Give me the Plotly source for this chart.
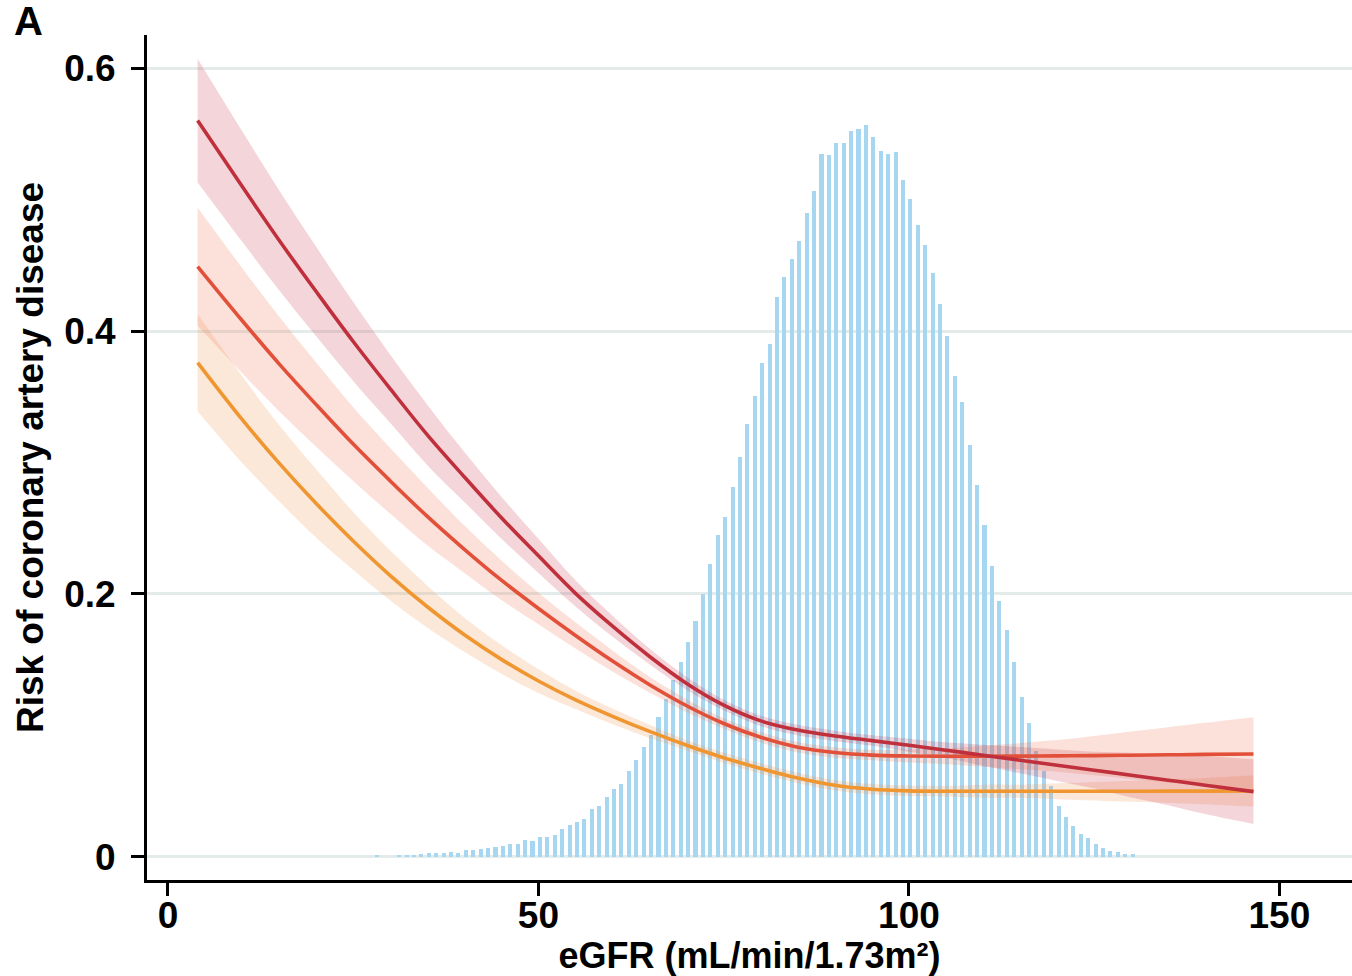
import plotly.graph_objects as go

# ---------------- data ----------------
# Histogram of eGFR distribution (scaled to risk axis), bin centres
hist_bins = [k + 0.2 for k in range(28, 131)]
hist_heights = [
    0.001, 0.0, 0.0, 0.0015, 0.0015, 0.0018, 0.0023, 0.003, 0.0033, 0.0033,      # 28-37
    0.0035, 0.0033, 0.0053, 0.0056, 0.0061, 0.0066, 0.0076, 0.0081, 0.0099, 0.0096,  # 38-47
    0.0127, 0.0122, 0.0152, 0.0152, 0.0165, 0.0213, 0.0246, 0.0264, 0.0289, 0.0368,  # 48-57
    0.0388, 0.0454, 0.0515, 0.0558, 0.0654, 0.0738, 0.0834, 0.0925, 0.1067, 0.1199,  # 58-67
    0.1346, 0.148, 0.1635, 0.1797, 0.2, 0.2228, 0.2451, 0.2583, 0.2811, 0.3042,      # 68-77
    0.3293, 0.3503, 0.3757, 0.3903, 0.4256, 0.441, 0.4545, 0.4684, 0.4895, 0.5065,   # 78-87
    0.5344, 0.5338, 0.5432, 0.5432, 0.5521, 0.5534, 0.5569, 0.5475, 0.5371, 0.5344,  # 88-97
    0.5359, 0.5146, 0.5001, 0.4804, 0.4654, 0.4443, 0.4205, 0.3965, 0.366, 0.346,    # 98-107
    0.3131, 0.2829, 0.2522, 0.2213, 0.1944, 0.1726, 0.1485, 0.1214, 0.1017, 0.0808,  # 108-117
    0.0657, 0.054, 0.0388, 0.0302, 0.0236, 0.0177, 0.0144, 0.0096, 0.0071, 0.0046,   # 118-127
    0.0041, 0.0023, 0.002,                                                           # 128-130
]

egfr = [4, 10, 15, 20, 25, 30, 35, 40, 45, 50, 55, 60, 65, 70, 75, 80, 85, 90, 95,
        100, 105, 110, 115, 120, 125, 130, 135, 140, 146.5]

risk_dark = [0.560, 0.510, 0.469, 0.430, 0.392, 0.356, 0.321, 0.289, 0.258, 0.229,
             0.2005, 0.1755, 0.1525, 0.132, 0.1155, 0.1035, 0.0965, 0.092, 0.0885,
             0.085, 0.0812, 0.0774, 0.0736, 0.0698, 0.066, 0.0622, 0.0584, 0.0546, 0.0497]
hw_dark = [0.047, 0.042, 0.038, 0.034, 0.030, 0.026, 0.023, 0.019, 0.016, 0.013,
           0.010, 0.008, 0.006, 0.005, 0.004, 0.004, 0.004, 0.004, 0.004,
           0.005, 0.006, 0.008, 0.010, 0.012, 0.014, 0.017, 0.019, 0.022, 0.0246]

risk_mid = [0.449, 0.408, 0.375, 0.344, 0.314, 0.286, 0.259, 0.234, 0.2105, 0.189,
            0.1685, 0.149, 0.131, 0.115, 0.1015, 0.091, 0.0835, 0.0795, 0.0775,
            0.0768, 0.0766, 0.0766, 0.0767, 0.0769, 0.0771, 0.0774, 0.0777, 0.078, 0.0783]
hw_mid = [0.045, 0.040, 0.036, 0.032, 0.028, 0.025, 0.022, 0.018, 0.015, 0.012,
          0.010, 0.008, 0.006, 0.005, 0.004, 0.004, 0.004, 0.004, 0.004,
          0.005, 0.006, 0.008, 0.010, 0.012, 0.015, 0.018, 0.021, 0.024, 0.028]

risk_low = [0.376, 0.3328, 0.2995, 0.2688, 0.2403, 0.214, 0.1903, 0.169, 0.1503, 0.1338,
            0.1195, 0.107, 0.0955, 0.085, 0.0755, 0.0673, 0.0600, 0.0545, 0.0515,
            0.0503, 0.0500, 0.0500, 0.0500, 0.0500, 0.0500, 0.0500, 0.0501, 0.0501, 0.0502]
hw_low = [0.037, 0.033, 0.029, 0.026, 0.022, 0.019, 0.016, 0.013, 0.011, 0.009,
          0.007, 0.006, 0.005, 0.004, 0.004, 0.004, 0.004, 0.004, 0.004,
          0.004, 0.004, 0.005, 0.005, 0.006, 0.007, 0.008, 0.009, 0.010, 0.012]

x_ticks = [0, 50, 100, 150]
y_ticks = [0, 0.2, 0.4, 0.6]
y_ticklabels = ["0", "0.2", "0.4", "0.6"]

# ---------------- figure ----------------
FONT = "Liberation Sans, Arial, Helvetica, sans-serif"
fig = go.Figure()

fig.add_trace(go.Bar(x=hist_bins, y=hist_heights, width=0.55,
                     marker=dict(color="#A6D6F0", line=dict(width=0)),
                     showlegend=False, hoverinfo="skip"))

series = [
    (risk_low, hw_low, "#EF9630", "rgba(240,150,80,0.22)"),
    (risk_mid, hw_mid, "#E2503A", "rgba(235,120,80,0.22)"),
    (risk_dark, hw_dark, "#C0303C", "rgba(200,50,70,0.20)"),
]

for y, hw, lc, fc in series:
    upper = [a + b for a, b in zip(y, hw)]
    lower = [a - b for a, b in zip(y, hw)]
    fig.add_trace(go.Scatter(x=egfr, y=lower, mode="lines",
                             line=dict(width=0, shape="spline", smoothing=1.0),
                             showlegend=False, hoverinfo="skip"))
    fig.add_trace(go.Scatter(x=egfr, y=upper, mode="lines", fill="tonexty",
                             fillcolor=fc,
                             line=dict(width=0, shape="spline", smoothing=1.0),
                             showlegend=False, hoverinfo="skip"))

for y, hw, lc, fc in series:
    fig.add_trace(go.Scatter(x=egfr, y=y, mode="lines",
                             line=dict(color=lc, width=3.6, shape="spline", smoothing=1.0),
                             showlegend=False))

fig.update_layout(
    width=1352, height=976,
    margin=dict(l=147, r=0, t=35, b=96),
    paper_bgcolor="white", plot_bgcolor="white",
    font=dict(family=FONT, color="black", size=36, weight="bold"),
    bargap=0,
    xaxis=dict(range=[-2.83, 159.8], tickvals=x_ticks, ticks="outside", ticklen=13,
               tickwidth=3, tickcolor="black", showline=True, linecolor="black",
               linewidth=3, showgrid=False, zeroline=False,
               ticklabelstandoff=-12,
               tickfont=dict(size=37, family=FONT, weight="bold"),
               title=dict(text="eGFR (mL/min/1.73m²)", standoff=6,
                          font=dict(size=36, family=FONT, weight="bold"))),
    yaxis=dict(range=[-0.0175, 0.6251], tickvals=y_ticks, ticktext=y_ticklabels,
               ticks="outside", ticklen=13, tickwidth=3, tickcolor="black",
               showline=True, linecolor="black", linewidth=3,
               showgrid=True, gridcolor="#E4ECEB", gridwidth=3, zeroline=False,
               ticklabelstandoff=8,
               tickfont=dict(size=37, family=FONT, weight="bold"),
               title=dict(text="Risk of coronary artery disease", standoff=10,
                          font=dict(size=37, family=FONT, weight="bold"))),
    annotations=[dict(text="<b>A</b>", xref="paper", yref="paper", x=-0.112, y=1.045,
                      xanchor="left", yanchor="top", showarrow=False,
                      font=dict(size=40, family=FONT, weight="bold"))],
)

fig.write_html("out.html")
